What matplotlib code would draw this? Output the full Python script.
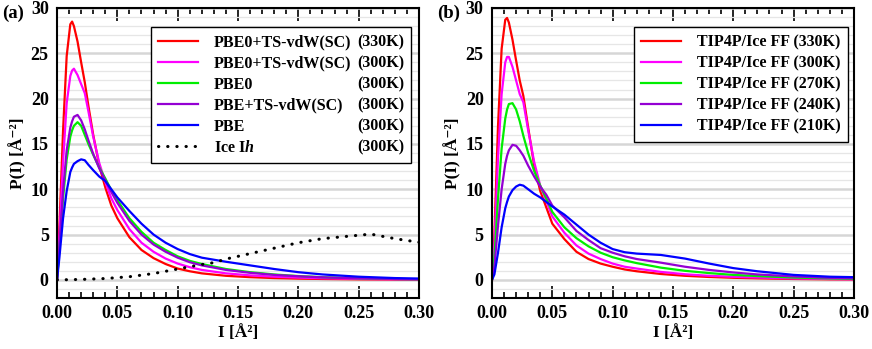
import matplotlib
matplotlib.use('Agg')
import matplotlib.pyplot as plt
from matplotlib.ticker import MultipleLocator, FormatStrFormatter

plt.rcParams['font.family'] = ['Liberation Serif', 'DejaVu Serif']
plt.rcParams['font.weight'] = 'bold'
plt.rcParams['mathtext.fontset'] = 'custom'
plt.rcParams['mathtext.rm'] = 'Liberation Serif:bold'
plt.rcParams['mathtext.it'] = 'Liberation Serif:italic:bold'
plt.rcParams['mathtext.bf'] = 'Liberation Serif:bold'
plt.rcParams['mathtext.default'] = 'rm'

# ---------------- data ----------------
I_grid = [0, 0.002, 0.005, 0.008, 0.011, 0.0125, 0.014, 0.017, 0.02, 0.023, 0.026,
          0.03, 0.035, 0.04, 0.045, 0.05, 0.06, 0.07, 0.08, 0.09, 0.10, 0.11, 0.12,
          0.14, 0.16, 0.18, 0.20, 0.22, 0.25, 0.28, 0.30]

# panel (a)
a_pbe0ts_330 = [0, 6, 16.5, 24.7, 28.2, 28.5, 28.0, 26.3, 24.0, 21.8, 19.2,
                16.0, 12.6, 10.2, 8.2, 6.8, 4.7, 3.3, 2.4, 1.75, 1.25, 0.95, 0.72,
                0.45, 0.3, 0.2, 0.14, 0.1, 0.06, 0.04, 0.03]
a_pbe0ts_300 = [0, 5, 13, 19.5, 22.5, 23.1, 23.3, 22.6, 21.6, 20.6, 18.6,
                15.8, 12.9, 10.8, 9.0, 7.7, 5.6, 4.1, 3.1, 2.35, 1.8, 1.4, 1.1,
                0.72, 0.5, 0.35, 0.25, 0.18, 0.11, 0.07, 0.05]
a_pbe0_300 = [0, 3.5, 9, 13.3, 15.8, 16.5, 17.0, 17.4, 17.0, 16.0, 15.0,
              13.8, 12.4, 11.2, 9.9, 8.8, 6.8, 5.3, 4.1, 3.3, 2.6, 2.1, 1.75,
              1.2, 0.85, 0.6, 0.42, 0.3, 0.18, 0.1, 0.07]
a_pbets_300 = [0, 3.8, 9.8, 14.3, 16.8, 17.5, 18.0, 18.2, 17.6, 16.6, 15.4,
               13.9, 12.3, 11.0, 9.7, 8.5, 6.5, 5.0, 3.9, 3.1, 2.45, 1.95, 1.6,
               1.1, 0.78, 0.55, 0.4, 0.28, 0.17, 0.1, 0.07]
a_pbe_300 = [0, 2.5, 6.8, 9.8, 11.9, 12.4, 12.8, 13.1, 13.3, 13.2, 12.7,
             12.1, 11.4, 10.9, 10.0, 9.1, 7.6, 6.2, 5.0, 4.1, 3.4, 2.85, 2.45,
             2.0, 1.6, 1.2, 0.85, 0.6, 0.35, 0.2, 0.15]
ice_I = [0, 0.02, 0.04, 0.06, 0.08, 0.10, 0.12, 0.13, 0.14, 0.16, 0.18, 0.20,
         0.22, 0.24, 0.26, 0.28, 0.30]
ice_P = [0, 0.05, 0.15, 0.35, 0.7, 1.2, 1.7, 1.9, 2.3, 2.9, 3.5, 4.1,
         4.55, 4.8, 5.05, 4.55, 4.15]

# panel (b)
b_330 = [0, 5, 17, 25.5, 28.7, 28.9, 28.4, 26.5, 24.2, 22.0, 20.3,
         16.8, 12.6, 9.8, 8.0, 6.2, 4.5, 3.1, 2.3, 1.8, 1.45, 1.15, 0.95,
         0.65, 0.45, 0.32, 0.23, 0.17, 0.1, 0.06, 0.05]
b_300 = [0, 4, 13.5, 20.5, 24.0, 24.6, 24.6, 23.5, 22.0, 20.5, 19.6,
         16.5, 13.0, 10.4, 8.7, 7.0, 5.2, 3.8, 2.9, 2.3, 1.8, 1.45, 1.25,
         0.88, 0.62, 0.45, 0.34, 0.26, 0.16, 0.1, 0.07]
b_270 = [0, 2.5, 9, 14.5, 17.8, 18.8, 19.4, 19.5, 18.8, 17.5, 15.9,
         14.0, 12.0, 10.4, 9.0, 7.5, 5.8, 4.6, 3.7, 3.0, 2.5, 2.15, 1.85,
         1.35, 1.0, 0.75, 0.55, 0.42, 0.26, 0.16, 0.12]
b_240 = [0, 1.5, 6.0, 10.0, 12.8, 13.7, 14.3, 14.9, 14.8, 14.3, 13.7,
         12.6, 11.4, 10.3, 9.4, 8.2, 6.9, 5.4, 4.4, 3.5, 3.0, 2.6, 2.3,
         1.9, 1.45, 1.1, 0.82, 0.6, 0.38, 0.23, 0.17]
b_210 = [0, 0.6, 3.0, 5.8, 7.9, 8.6, 9.2, 9.9, 10.3, 10.5, 10.4,
         10.0, 9.5, 9.1, 8.6, 8.1, 7.2, 6.1, 5.0, 4.1, 3.4, 3.05, 2.9,
         2.75, 2.35, 1.8, 1.3, 0.95, 0.55, 0.35, 0.3]

a_names = ['PBE0+TS-vdW(SC)', 'PBE0+TS-vdW(SC)', 'PBE0', 'PBE+TS-vdW(SC)', 'PBE', r'Ice I$\mathit{h}$']
a_temps = ['(330K)', '(300K)', '(300K)', '(300K)', '(300K)', '(300K)']
b_labels = ['TIP4P/Ice FF (330K)', 'TIP4P/Ice FF (300K)', 'TIP4P/Ice FF (270K)',
            'TIP4P/Ice FF (240K)', 'TIP4P/Ice FF (210K)']
colors = ['#ff0000', '#ff00ff', '#00ee00', '#9400d3', '#0000ff']

FS = 11.5
TFS = 13

fig = plt.figure(figsize=(8.72, 3.49), dpi=100)
axA = fig.add_axes([0.0654, 0.1461, 0.4151, 0.831])
axB = fig.add_axes([0.5642, 0.1461, 0.4151, 0.831])


def style(ax):
    ax.set_xlim(0, 0.3)
    ax.set_ylim(-2, 30)
    ax.xaxis.set_major_locator(MultipleLocator(0.05))
    ax.xaxis.set_minor_locator(MultipleLocator(0.01))
    ax.yaxis.set_major_locator(MultipleLocator(5))
    ax.yaxis.set_minor_locator(MultipleLocator(1))
    ax.xaxis.set_major_formatter(FormatStrFormatter('%.2f'))
    ax.tick_params(axis='x', which='both', direction='in', top=True, bottom=True)
    ax.tick_params(axis='x', which='major', length=9, width=1.2, pad=5, labelsize=TFS)
    ax.tick_params(axis='x', which='minor', length=4.5, width=1.2)
    ax.tick_params(axis='y', which='both', length=0, pad=6, labelsize=TFS)
    ax.grid(axis='y', which='major', color='#d6d6d6', lw=1.8)
    ax.grid(axis='y', which='minor', color='#e6e6e6', lw=0.9)
    ax.set_axisbelow(True)
    for s in ax.spines.values():
        s.set_linewidth(1.5)
    ax.set_xlabel('I [Å²]', fontsize=12.5, labelpad=2, fontweight='bold')
    ax.set_ylabel('P(I) [Å⁻²]', fontsize=12.5, labelpad=3, fontweight='bold')


style(axA)
style(axB)

a_series = [a_pbe0ts_330, a_pbe0ts_300, a_pbe0_300, a_pbets_300, a_pbe_300]
for ys, c, n in zip(a_series, colors, a_names[:5]):
    axA.plot(I_grid, ys, color=c, lw=1.6, label=n)
axA.plot(ice_I, ice_P, color='black', lw=2.2, linestyle=(0, (0.1, 2.9)),
         dash_capstyle='round', label=a_names[5])

b_series = [b_330, b_300, b_270, b_240, b_210]
for ys, c, n in zip(b_series, colors, b_labels):
    axB.plot(I_grid, ys, color=c, lw=1.6, label=n)

x0 = (151 - 57) / 362
wA = (411 - 151) / 362
legA = axA.legend(loc='upper left', bbox_to_anchor=(x0, 0.0, wA, 0.934), mode='expand',
                  fontsize=FS, frameon=True, fancybox=False, edgecolor='black', framealpha=1,
                  handlelength=2.5, handletextpad=1.0, labelspacing=0.32,
                  borderpad=0.45, borderaxespad=0)
legA.get_frame().set_linewidth(1.0)
legB = axB.legend(loc='upper right', bbox_to_anchor=(0.983, 0.934), fontsize=FS,
                  frameon=True, fancybox=False, edgecolor='black', framealpha=1,
                  handlelength=2.5, handletextpad=1.0, labelspacing=0.32,
                  borderpad=0.45, borderaxespad=0)
legB.get_frame().set_linewidth(1.0)

# right-aligned temperatures in legend (a)
fig.canvas.draw()
r = fig.canvas.get_renderer()
frame = legA.get_frame().get_window_extent(r)
W, H = fig.bbox.width, fig.bbox.height
for t, temp in zip(legA.get_texts(), a_temps):
    ybase = t.get_transform().transform(t.get_position())[1]
    fig.text((frame.x1 - 7) / W, ybase / H, temp, ha='right', va='baseline', fontsize=FS)

fig.text(0.002, 0.988, '(a)', ha='left', va='top', fontsize=13.5)
fig.text(437 / 872, 0.988, '(b)', ha='left', va='top', fontsize=13.5)

fig.savefig('out.png', dpi=100)
